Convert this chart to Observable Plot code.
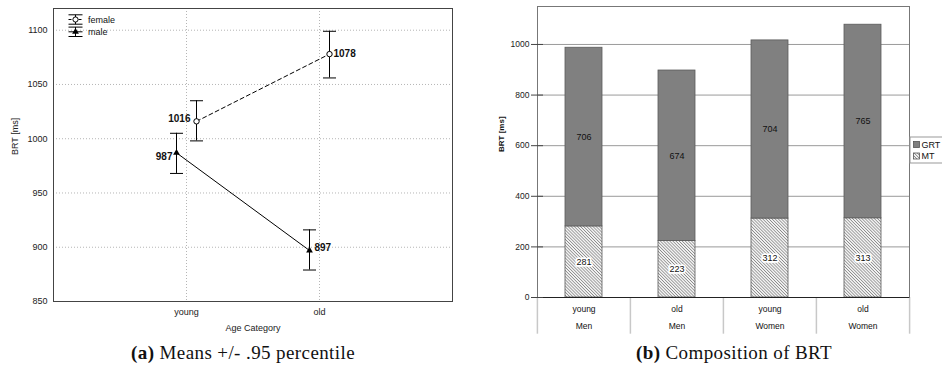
<!DOCTYPE html>
<html><head><meta charset="utf-8">
<script src="https://cdn.jsdelivr.net/npm/d3@7"></script>
<script src="https://cdn.jsdelivr.net/npm/@observablehq/plot@0.6"></script>
<style>
body{margin:0;background:#fff;}
#wrap{position:relative;width:942px;height:383px;overflow:hidden;background:#fff;font-family:"Liberation Sans",Arial,sans-serif;}
#left{position:absolute;left:0;top:0;}
#right{position:absolute;left:480px;top:0;}
.ov{position:absolute;overflow:visible;}
.cap{position:absolute;top:341px;font-family:"Liberation Serif",serif;font-size:19px;line-height:24px;white-space:nowrap;transform:translateX(-50%);color:#111;letter-spacing:0.4px;}
</style></head><body>
<div id="wrap">
  <div id="left"></div>
  <div id="right"></div>
  <svg id="legL" class="ov" style="left:0;top:0" width="140" height="45"></svg>
  <svg id="legR" class="ov" style="left:906px;top:134px" width="36" height="32"></svg>
  <div class="cap" style="left:243px"><b>(a)</b> Means +/- .95 percentile</div>
  <div class="cap" style="left:734px"><b>(b)</b> Composition of BRT</div>
</div>
<script>
// ---- Panel (a) data ----
const ageCategories = ["young", "old"];
const sexes = ["female", "male"];
const femaleMean = [1016, 1078];
const femaleLow = [998, 1056];
const femaleHigh = [1035, 1099];
const maleMean = [987, 897];
const maleLow = [968, 879];
const maleHigh = [1005, 916];
const yTicksLeft = [850, 900, 950, 1000, 1050, 1100];

// ---- Panel (b) data ----
const barAges = ["young", "old", "young", "old"];
const barSexes = ["Men", "Men", "Women", "Women"];
const mtValues = [281, 223, 312, 313];
const grtValues = [706, 674, 704, 765];
const parts = ["GRT", "MT"];
const yTicksRight = [0, 200, 400, 600, 800, 1000];

const female = ageCategories.map((age, i) => ({age, mean: femaleMean[i], lo: femaleLow[i], hi: femaleHigh[i]}));
const male = ageCategories.map((age, i) => ({age, mean: maleMean[i], lo: maleLow[i], hi: maleHigh[i]}));

const capSymbol = {draw(ctx, size) { const w = Math.sqrt(size / Math.PI); ctx.moveTo(-w, 0); ctx.lineTo(w, 0); }};
const FONT = "'Liberation Sans', Arial, sans-serif";
const plain = d => String(d);

function errorMarks(rows, dx) {
  return [
    Plot.ruleX(rows, {x: "age", y1: "lo", y2: "hi", dx, stroke: "#000", strokeWidth: 1}),
    Plot.dot(rows, {x: "age", y: "hi", dx, symbol: capSymbol, r: 6.5, stroke: "#000", fill: "none", strokeWidth: 1}),
    Plot.dot(rows, {x: "age", y: "lo", dx, symbol: capSymbol, r: 6.5, stroke: "#000", fill: "none", strokeWidth: 1})
  ];
}
const labelStyle = {fontWeight: "bold", fontSize: 10, fill: "#111"};

const left = Plot.plot({
  width: 480, height: 340,
  marginLeft: 53, marginRight: 28, marginTop: 8, marginBottom: 39,
  style: {fontFamily: FONT, fontSize: "9px", color: "#222", background: "transparent"},
  x: {type: "point", domain: ageCategories, padding: 1},
  y: {domain: [850, 1120]},
  marks: [
    Plot.gridY({ticks: yTicksLeft, stroke: "#b5b5b5", strokeOpacity: 1, strokeDasharray: "1,2"}),
    Plot.gridX({ticks: ageCategories, stroke: "#b5b5b5", strokeOpacity: 1, strokeDasharray: "1,2"}),
    Plot.frame({stroke: "#444"}),
    Plot.axisY({ticks: yTicksLeft, tickFormat: plain, tickSize: 0, tickPadding: 6, label: null}),
    Plot.axisX({ticks: ageCategories, tickSize: 0, tickPadding: 7, label: null}),
    Plot.text(["BRT [ms]"], {frameAnchor: "left", dx: -38, rotate: -90, fontSize: 9}),
    Plot.text(["Age Category"], {frameAnchor: "bottom", dy: 29, fontSize: 9}),
    Plot.line(female, {x: "age", y: "mean", dx: 10, stroke: "#000", strokeWidth: 1, strokeDasharray: "4,3"}),
    Plot.line(male, {x: "age", y: "mean", dx: -10, stroke: "#000", strokeWidth: 1}),
    ...errorMarks(female, 10),
    ...errorMarks(male, -10),
    Plot.dot(female, {x: "age", y: "mean", dx: 10, r: 2.7, symbol: "circle", fill: "#fff", stroke: "#000", strokeWidth: 1}),
    Plot.dot(male, {x: "age", y: "mean", dx: -10, r: 2.5, symbol: "triangle", fill: "#000", stroke: "none"}),
    Plot.text([female[0]], {x: "age", y: "mean", text: d => String(d.mean), dx: 4, dy: -3, textAnchor: "end", ...labelStyle}),
    Plot.text([male[0]], {x: "age", y: "mean", text: d => String(d.mean), dx: -14, dy: 4, textAnchor: "end", ...labelStyle}),
    Plot.text([male[1]], {x: "age", y: "mean", text: d => String(d.mean), dx: -5, dy: -3, textAnchor: "start", ...labelStyle}),
    Plot.text([female[1]], {x: "age", y: "mean", text: d => String(d.mean), dx: 14, dy: 0, textAnchor: "start", ...labelStyle})
  ]
});
document.getElementById("left").append(left);

// Legend for panel (a)
(function () {
  const g = d3.select("#legL");
  const cx = 75.5, x0 = 68.5, x1 = 82.5;
  sexes.forEach((s, i) => {
    const cy = 19.5 + i * 12.3;
    const gg = g.append("g").attr("stroke", "#000").attr("fill", "none").attr("stroke-width", 1);
    gg.append("line").attr("x1", x0).attr("x2", x1).attr("y1", cy - 4.7).attr("y2", cy - 4.7);
    gg.append("line").attr("x1", x0).attr("x2", x1).attr("y1", cy + 4.7).attr("y2", cy + 4.7);
    gg.append("line").attr("x1", cx).attr("x2", cx).attr("y1", cy - 4.7).attr("y2", cy + 4.7);
    gg.append("line").attr("x1", x0).attr("x2", x1).attr("y1", cy).attr("y2", cy).attr("stroke-dasharray", i === 0 ? "3,2" : null);
    if (i === 0) gg.append("circle").attr("cx", cx).attr("cy", cy).attr("r", 2.6).attr("fill", "#fff");
    else gg.append("path").attr("d", d3.symbol(d3.symbolTriangle, 2.5 * 2.5 * Math.PI)()).attr("transform", `translate(${cx},${cy})`).attr("fill", "#000").attr("stroke", "none");
    g.append("text").attr("x", 88).attr("y", cy + 3).attr("font-size", 9).attr("font-family", FONT).attr("fill", "#111").text(s);
  });
})();

// ---- Panel (b) ----
const barRows = barAges.map((age, i) => ({key: age + "\n" + barSexes[i], age, sex: barSexes[i]}));
const segs = barRows.flatMap((r, i) => [
  {key: r.key, part: "MT", value: mtValues[i]},
  {key: r.key, part: "GRT", value: grtValues[i]}
]);
const keys = barRows.map(d => d.key);
const inset = 28;

const right = Plot.plot({
  width: 462, height: 340,
  marginLeft: 57, marginRight: 33, marginTop: 6, marginBottom: 43,
  style: {fontFamily: FONT, fontSize: "8.5px", color: "#222", background: "transparent"},
  x: {domain: keys, padding: 0, axis: null},
  y: {domain: [0, 1150], axis: null},
  color: {domain: parts, range: ["#808080", "url(#hatch)"]},
  marks: [
    Plot.gridY({ticks: yTicksRight.slice(1), stroke: "#9a9a9a", strokeOpacity: 1}),
    Plot.ruleX(barRows, {x: "key", dx: -46.6, y1: 0, y2: -145, stroke: "#c8c8c8", strokeWidth: 1.5}),
    Plot.ruleX([barRows[barRows.length - 1]], {x: "key", dx: 46.6, y1: 0, y2: -145, stroke: "#c8c8c8", strokeWidth: 1.5}),
    Plot.frame({stroke: "#777"}),
    Plot.barY(segs, {x: "key", y: "value", z: "part", fill: "part", stroke: "#5a5a5a", strokeWidth: 0.8, insetLeft: inset, insetRight: inset}),
    Plot.ruleY([0], {stroke: "#222", strokeWidth: 1}),
    Plot.axisY({ticks: yTicksRight, tickFormat: plain, tickSize: 12, dx: 6, tickPadding: 2, stroke: "#444", label: null}),
    Plot.text(segs, Plot.stackY({x: "key", y: "value", z: "part", text: d => d.part === "MT" ? String(d.value) : "", fontSize: 9, fill: "#111", stroke: "#fff", strokeWidth: 3.5})),
    Plot.text(segs, Plot.stackY({x: "key", y: "value", z: "part", text: d => d.part === "GRT" ? String(d.value) : "", fontSize: 9, fill: "#111"})),
    Plot.text(barRows, {x: "key", text: "age", frameAnchor: "bottom", dy: 14, fontSize: 8.5, fill: "#111"}),
    Plot.text(barRows, {x: "key", text: "sex", frameAnchor: "bottom", dy: 31, fontSize: 8.5, fill: "#111"}),
    Plot.text(["BRT [ms]"], {frameAnchor: "left", dx: -36, rotate: -90, fontSize: 8, fontWeight: "bold", fill: "#111"})
  ]
});

function addHatch(svgSel, id) {
  const defs = svgSel.insert("defs", ":first-child");
  const pat = defs.append("pattern").attr("id", id).attr("patternUnits", "userSpaceOnUse")
    .attr("width", 2.2).attr("height", 2.2).attr("patternTransform", "rotate(-45)");
  pat.append("rect").attr("width", 2.2).attr("height", 2.2).attr("fill", "#fff");
  pat.append("line").attr("x1", 1.1).attr("x2", 1.1).attr("y1", -1).attr("y2", 3.2).attr("stroke", "#8a8a8a").attr("stroke-width", 0.9);
}
addHatch(d3.select(right), "hatch");
document.getElementById("right").append(right);

// Legend for panel (b)
(function () {
  const g = d3.select("#legR");
  addHatch(g, "hatch2");
  g.append("rect").attr("x", 4).attr("y", 3).attr("width", 60).attr("height", 26).attr("fill", "#fff").attr("stroke", "#999");
  parts.forEach((p, i) => {
    const cy = 10.5 + i * 11.5;
    g.append("rect").attr("x", 7.5).attr("y", cy - 3).attr("width", 6).attr("height", 6)
      .attr("fill", p === "GRT" ? "#808080" : "url(#hatch2)").attr("stroke", "#555").attr("stroke-width", 0.8);
    g.append("text").attr("x", 15.5).attr("y", cy + 3.2).attr("font-size", 9).attr("font-family", FONT).attr("fill", "#111").text(p);
  });
})();
</script>
</body></html>
